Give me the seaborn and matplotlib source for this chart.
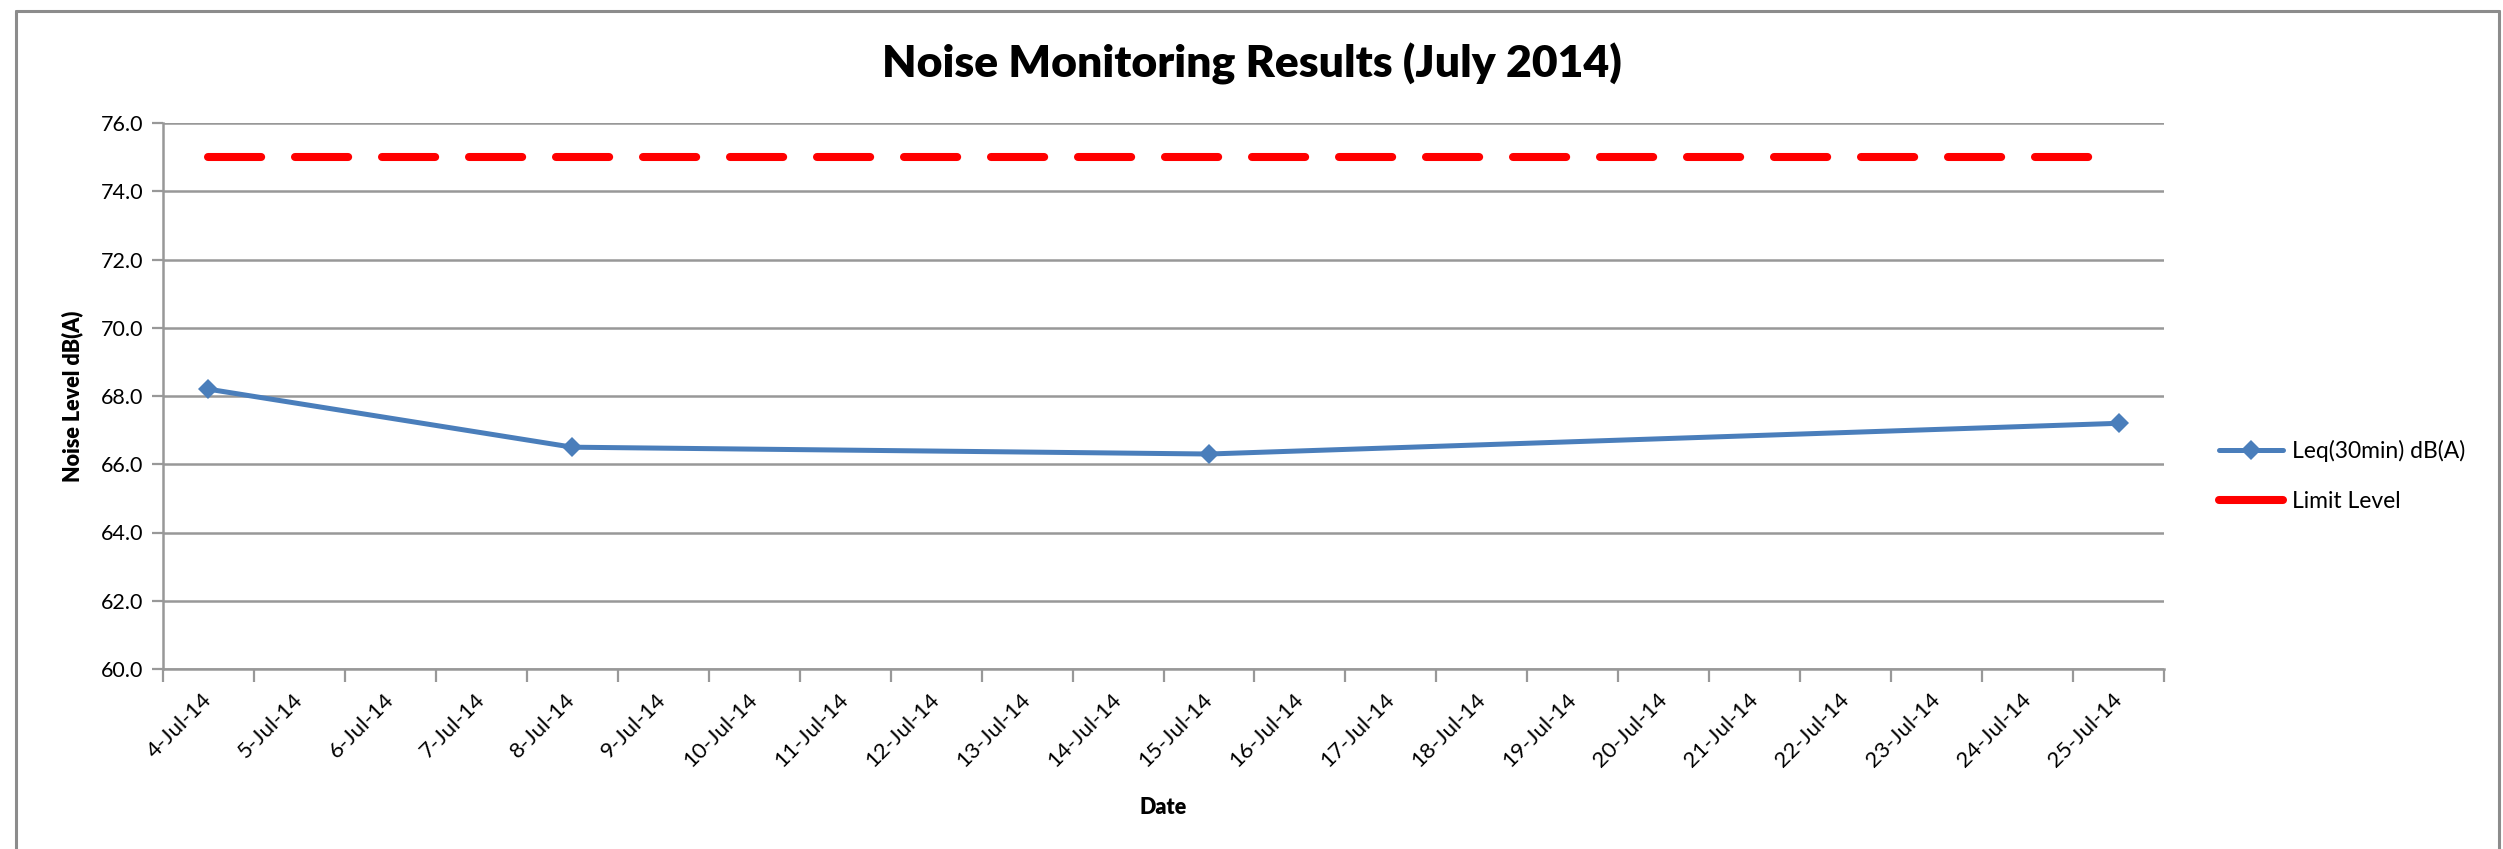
import matplotlib
matplotlib.use("Agg")
import matplotlib.pyplot as plt
from matplotlib.lines import Line2D
from matplotlib.transforms import ScaledTranslation
import seaborn as sns
import pandas as pd

# Category axis: one slot per day
dates = ["4-Jul-14", "5-Jul-14", "6-Jul-14", "7-Jul-14", "8-Jul-14", "9-Jul-14",
         "10-Jul-14", "11-Jul-14", "12-Jul-14", "13-Jul-14", "14-Jul-14", "15-Jul-14",
         "16-Jul-14", "17-Jul-14", "18-Jul-14", "19-Jul-14", "20-Jul-14", "21-Jul-14",
         "22-Jul-14", "23-Jul-14", "24-Jul-14", "25-Jul-14"]

# Measured Leq(30min) readings
leq_dates = ["4-Jul-14", "8-Jul-14", "15-Jul-14", "25-Jul-14"]
leq_values = [68.2, 66.5, 66.3, 67.2]

# Limit level applies on every day
limit_values = [75.0] * len(dates)

y_ticks = [60.0, 62.0, 64.0, 66.0, 68.0, 70.0, 72.0, 74.0, 76.0]

sns.set_theme(style="white")
plt.rcParams["font.family"] = ["Lato", "DejaVu Sans"]
plt.rcParams["text.color"] = "black"
plt.rcParams["axes.labelcolor"] = "black"

W, H, DPI = 2503, 849, 100
fig = plt.figure(figsize=(W / DPI, H / DPI), dpi=DPI)
fig.patch.set_facecolor("white")
ax = fig.add_axes([163 / W, 1 - 669 / H, (2164 - 163) / W, (669 - 123) / H])

pos = {d: i for i, d in enumerate(dates)}
leq_df = pd.DataFrame({"x": [pos[d] for d in leq_dates], "y": leq_values})
lim_df = pd.DataFrame({"x": [pos[d] for d in dates], "y": limit_values})

blue = "#4a7ebb"
red = "#ff0000"
grid = "#989898"

sns.lineplot(data=leq_df, x="x", y="y", ax=ax, color=blue, linewidth=3.6,
             marker="D", markersize=10, markeredgewidth=0, zorder=4)
sns.lineplot(data=lim_df, x="x", y="y", ax=ax, color=red, linewidth=5.8, zorder=3)
lim_line = ax.lines[-1]
lim_line.set_dashes([6.6, 4.2])
lim_line.set_dash_capstyle("round")

ax.set_xlim(-0.5, len(dates) - 0.5)
ax.set_ylim(y_ticks[0], y_ticks[-1])

# Category labels centred in slots, tick marks on slot boundaries
ax.set_xticks(range(len(dates)))
ax.set_xticklabels(dates, rotation=45, ha="right", va="center",
                   rotation_mode="anchor", fontsize=16)
shift = ScaledTranslation(14 / DPI, 0, fig.dpi_scale_trans)
for lbl in ax.get_xticklabels():
    lbl.set_transform(lbl.get_transform() + shift)
ax.set_xticks([i - 0.5 for i in range(len(dates) + 1)], minor=True)
ax.tick_params(axis="x", which="major", length=0, pad=20, labelcolor="black")
ax.tick_params(axis="x", which="minor", length=9, width=1.6, color=grid, bottom=True)

ax.set_yticks(y_ticks)
ax.set_yticklabels([f"{v:.1f}" for v in y_ticks], fontsize=15.5)
ax.tick_params(axis="y", which="major", length=8, width=1.6, color=grid, left=True,
               pad=6, labelcolor="black")

ax.grid(axis="y", color=grid, linewidth=1.8)
ax.grid(axis="x", visible=False)
for side in ("top", "right"):
    ax.spines[side].set_visible(False)
for side in ("left", "bottom"):
    ax.spines[side].set_color(grid)
    ax.spines[side].set_linewidth(1.8)

ax.set_xlabel("Date", fontsize=15.5, fontweight="heavy")
ax.set_ylabel("Noise Level dB(A)", fontsize=15.5, fontweight="heavy")
ax.xaxis.set_label_coords(0.5, -0.235)
ax.yaxis.set_label_coords(-0.04, 0.5)

fig.text(0.5, 1 - 64 / H, "Noise Monitoring Results (July 2014)",
         ha="center", va="center", fontsize=32, fontweight="heavy")

handles = [
    Line2D([], [], color=blue, linewidth=3.6, marker="D", markersize=10, markeredgewidth=0),
    Line2D([], [], color=red, linewidth=5.8, solid_capstyle="round"),
]
fig.legend(handles, ["Leq(30min) dB(A)", "Limit Level"], loc="center left",
           bbox_to_anchor=(2198 / W, 1 - 476 / H), frameon=False, fontsize=16.5,
           handlelength=2.8, handletextpad=0.4, labelspacing=1.25)

# Chart-area border
bc = "#8c8c8c"
for xs, ys in [((16 / W, 16 / W), (0, 1 - 11 / H)),
               ((16 / W, 2499 / W), (1 - 11 / H, 1 - 11 / H)),
               ((2499 / W, 2499 / W), (1 - 11 / H, 0))]:
    fig.add_artist(Line2D(xs, ys, transform=fig.transFigure, color=bc, linewidth=2.2))

fig.savefig("out.png", dpi=DPI)
